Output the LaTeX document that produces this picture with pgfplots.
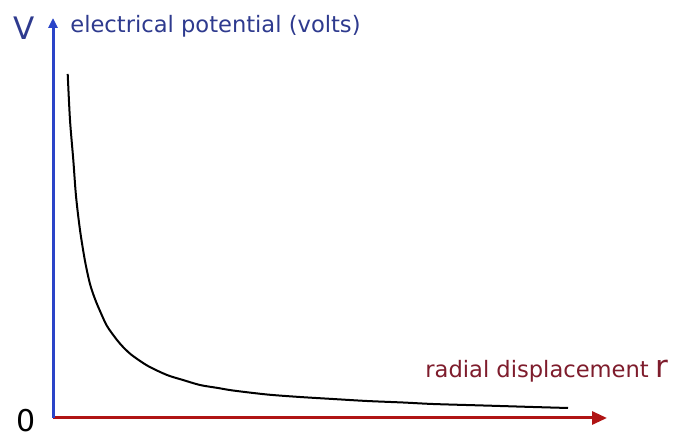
\documentclass[border=0pt]{standalone}
\usepackage{pgfplots}
\pgfplotsset{compat=1.18}
\usepackage{fontspec}
\setmainfont{DejaVu Sans}
\usetikzlibrary{arrows.meta}
\definecolor{axblue}{HTML}{2A44C8}
\definecolor{axred}{HTML}{B01414}
\definecolor{lblblue}{HTML}{2E3A8E}
\definecolor{lblred}{HTML}{7E1C2C}
\begin{document}
\begin{tikzpicture}
\begin{axis}[
  x=0.5pt, y=0.5pt,
  xmin=0, xmax=554, ymin=0, ymax=400,
  axis lines=left,
  xtick=\empty, ytick=\empty,
  clip=false,
  x axis line style={draw=axred, line width=1.5pt, -{Triangle[length=7.5pt,width=6.5pt]}},
  y axis line style={draw=axblue, line width=1.5pt, -{Triangle[length=5pt,width=4.5pt]}},
]
\path (axis cs:-53,-19) rectangle (axis cs:620,418);
\addplot[black, line width=1pt, smooth, tension=0.5] coordinates {
(14.7,344) (17,298) (20.3,258) (23,222) (27,188) (32,157) (37,134) (42,119)
(47,107) (54,92) (64,78) (72,69) (80,62) (95,52) (114,43) (130,38) (147,33)
(165,30) (180,27.5) (214,23.5) (247,21) (280,19) (314,17) (350,15.5) (380,14)
(427,12.6) (447,12) (480,11) (515,10)
};
\node[anchor=center, text=lblblue, font=\fontsize{15.5}{15}\selectfont, inner sep=0pt] at (axis cs:-29,390) {V};
\node[anchor=base west, text=lblblue, font=\fontsize{11.3}{12}\selectfont, inner sep=0pt] at (axis cs:17,385) {electrical potential (volts)};
\node[anchor=base west, text=lblred, font=\fontsize{11.3}{12}\selectfont, inner sep=0pt] at (axis cs:372,40) {radial displacement {\fontsize{15.5}{15}\selectfont r}};
\node[anchor=center, text=black, font=\fontsize{15}{15}\selectfont, inner sep=0pt] at (axis cs:-27,-3) {0};
\end{axis}
\end{tikzpicture}
\end{document}
